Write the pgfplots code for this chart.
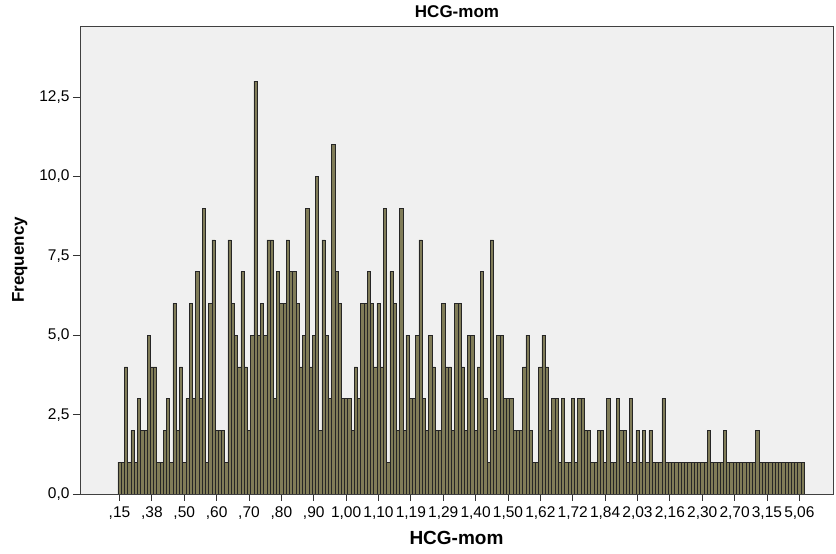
\documentclass[border=0pt]{standalone}
\usepackage{fontspec}
\setmainfont{Liberation Sans}
\usepackage{pgfplots}
\pgfplotsset{compat=1.18}
\definecolor{barfill}{RGB}{128,124,88}
\definecolor{plotbg}{RGB}{240,240,240}

\begin{document}
\begin{tikzpicture}
\useasboundingbox (-80pt,-60pt) rectangle (756pt,494pt);
\begin{axis}[
    at={(0pt,0pt)}, anchor=south west,
    scale only axis,
    width=753pt, height=468pt,
    xmin=-12.2, xmax=220.4,
    ymin=0, ymax=14.74,
    axis background/.style={fill=plotbg},
    axis line style={black!75, line width=0.8pt},
    xtick={0,10,...,210},
    xticklabels={{,15},{,38},{,50},{,60},{,70},{,80},{,90},{1,00},{1,10},{1,19},{1,29},{1,40},{1,50},{1,62},{1,72},{1,84},{2,03},{2,16},{2,30},{2,70},{3,15},{5,06}},
    ytick={0,2.5,5,7.5,10,12.5},
    xtick pos=bottom, ytick pos=left,
    tick align=outside,
    major tick length=7pt,
    tick style={black!80, line width=0.8pt},
    /pgf/number format/.cd, use comma, fixed, fixed zerofill, precision=1, assume math mode=true,
    /pgfplots/.cd,
    ticklabel style={font=\fontsize{15.5}{17}\selectfont},
    xticklabel style={yshift=-2pt},
    xlabel={HCG-mom},
    xlabel style={font=\bfseries\fontsize{19}{22}\selectfont, at={(axis description cs:0.5,-0.094)}, anchor=center},
    ylabel={Frequency},
    ylabel style={font=\bfseries\fontsize{17}{20}\selectfont, at={(axis description cs:-0.08,0.5)}, anchor=center},
]
\addplot[ybar, bar width=1, fill=barfill, draw=black!85, line width=0.5pt] coordinates {
(0,1) (1,1) (2,4) (3,1) (4,2) (5,1) (6,3) (7,2) (8,2) (9,5)
(10,4) (11,4) (12,1) (13,1) (14,2) (15,3) (16,1) (17,6) (18,2) (19,4)
(20,1) (21,3) (22,6) (23,3) (24,7) (25,3) (26,9) (27,1) (28,6) (29,8)
(30,2) (31,2) (32,2) (33,1) (34,8) (35,6) (36,5) (37,4) (38,7) (39,4)
(40,2) (41,5) (42,13) (43,5) (44,6) (45,5) (46,8) (47,8) (48,3) (49,7)
(50,6) (51,6) (52,8) (53,7) (54,7) (55,6) (56,4) (57,5) (58,9) (59,4)
(60,5) (61,10) (62,2) (63,8) (64,5) (65,3) (66,11) (67,7) (68,6) (69,3)
(70,3) (71,3) (72,2) (73,4) (74,3) (75,6) (76,6) (77,7) (78,6) (79,4)
(80,6) (81,4) (82,9) (83,1) (84,7) (85,6) (86,2) (87,9) (88,2) (89,5)
(90,3) (91,3) (92,5) (93,8) (94,3) (95,2) (96,5) (97,4) (98,2) (99,2)
(100,6) (101,4) (102,4) (103,2) (104,6) (105,6) (106,4) (107,2) (108,5) (109,5)
(110,2) (111,4) (112,7) (113,3) (114,1) (115,8) (116,2) (117,5) (118,5) (119,3)
(120,3) (121,3) (122,2) (123,2) (124,2) (125,4) (126,5) (127,2) (128,1) (129,1)
(130,4) (131,5) (132,4) (133,2) (134,3) (135,3) (136,1) (137,3) (138,1) (139,1)
(140,3) (141,1) (142,3) (143,3) (144,2) (145,2) (146,1) (147,1) (148,2) (149,2)
(150,1) (151,3) (152,1) (153,1) (154,3) (155,2) (156,2) (157,1) (158,3) (159,1)
(160,2) (161,1) (162,2) (163,1) (164,2) (165,1) (166,1) (167,1) (168,3) (169,1)
(170,1) (171,1) (172,1) (173,1) (174,1) (175,1) (176,1) (177,1) (178,1) (179,1)
(180,1) (181,1) (182,2) (183,1) (184,1) (185,1) (186,1) (187,2) (188,1) (189,1)
(190,1) (191,1) (192,1) (193,1) (194,1) (195,1) (196,1) (197,2) (198,1) (199,1)
(200,1) (201,1) (202,1) (203,1) (204,1) (205,1) (206,1) (207,1) (208,1) (209,1)
(210,1) (211,1)
};
\end{axis}
% chart title, set above the plot box
\node[font=\bfseries\fontsize{17}{20}\selectfont, anchor=center] at (377pt,482pt) {HCG-mom};
\end{tikzpicture}
\end{document}
